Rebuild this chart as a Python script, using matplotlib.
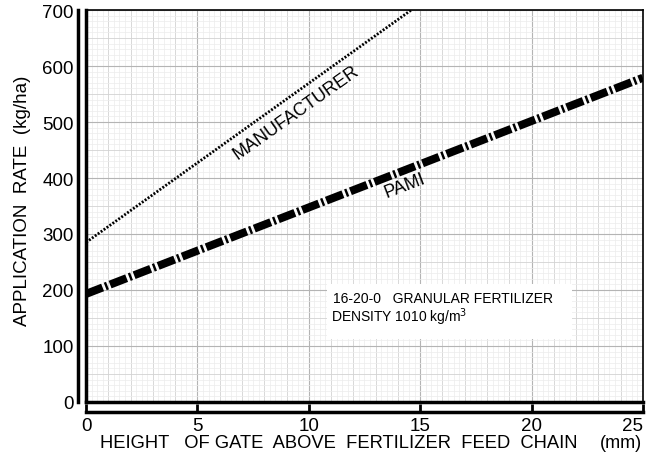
import matplotlib
matplotlib.use("Agg")
import matplotlib.pyplot as plt
import numpy as np

plt.rcParams['font.family'] = ['Liberation Sans', 'DejaVu Sans']

# Data
gate_height = [0, 25]                 # mm
pami_rate = [193, 579]                # kg/ha
manuf_height = [0, 14.6]              # mm
manuf_rate = [285, 700]               # kg/ha
x_ticks = [0, 5, 10, 15, 20, 25]
y_ticks = [0, 100, 200, 300, 400, 500, 600, 700]

fig = plt.figure(figsize=(6.52, 4.60), dpi=100)
ax = fig.add_axes([0.132, 0.124, 0.854, 0.852])
ax.set_xlim(0, 25)
ax.set_ylim(0, 700)

# graph-paper grid
for xv in np.arange(0, 25.01, 0.25):
    if abs(xv - round(xv / 5) * 5) < 1e-6:
        c, w = '#b4b4b4', 0.8
    elif abs(xv - round(xv)) < 1e-6:
        c, w = '#d2d2d2', 0.6
    else:
        c, w = '#ececec', 0.5
    ax.axvline(xv, color=c, lw=w, zorder=0)
for yv in np.arange(0, 700.1, 10):
    if abs(yv % 100) < 1e-6:
        c, w = '#b4b4b4', 0.8
    elif abs(yv % 50) < 1e-6:
        c, w = '#d2d2d2', 0.6
    else:
        c, w = '#ececec', 0.5
    ax.axhline(yv, color=c, lw=w, zorder=0)

# lines
ax.plot(manuf_height, manuf_rate, color='black', lw=2.0,
        linestyle=(0, (0.7, 0.6)), solid_capstyle='butt', zorder=3)
ax.plot(gate_height, pami_rate, color='black', lw=5.8,
        linestyle=(0, (2.2, 0.35, 0.3, 0.35)), dash_capstyle='butt', zorder=3)

ax.text(9.45, 518, 'MANUFACTURER', rotation=35.3, fontsize=13,
        ha='center', va='center', rotation_mode='anchor', zorder=4)
ax.text(14.3, 388, 'PAMI', rotation=21, fontsize=13,
        ha='center', va='center', rotation_mode='anchor', zorder=4)

# annotation box
ax.add_patch(plt.Rectangle((10.8, 113), 11.0, 98, facecolor='white',
                           edgecolor='none', zorder=2))
ax.text(11.1, 185, '16-20-0   GRANULAR FERTILIZER', fontsize=10,
        ha='left', va='center', zorder=4)
ax.text(11.0, 153, 'DENSITY 1010 kg/m$^3$', fontsize=10,
        ha='left', va='center', zorder=4)

# axes frame: double left and bottom lines
for s in ['top', 'right']:
    ax.spines[s].set_linewidth(1.2)
ax.spines['left'].set_position(('outward', 6))
ax.spines['bottom'].set_position(('outward', 7))
ax.spines['left'].set_linewidth(2.5)
ax.spines['bottom'].set_linewidth(2.5)
ax.axvline(0, color='black', lw=2.5, zorder=5, clip_on=False)
ax.axhline(0, color='black', lw=2.5, zorder=5, clip_on=False)

ax.set_xticks(x_ticks)
ax.set_yticks(y_ticks)
ax.tick_params(axis='x', direction='in', length=6, width=2, labelsize=13.5, pad=4)
ax.tick_params(axis='y', direction='out', length=0, width=2, labelsize=13.5, pad=3)
ax.tick_params(which='minor', length=0)
ax.get_xticklabels()[-1].set_horizontalalignment('right')

fig.text(0.034, 0.563, 'APPLICATION  RATE  (kg/ha)', rotation=90, fontsize=13.5,
         ha='center', va='center')
fig.text(0.154, 0.035, 'HEIGHT   OF GATE  ABOVE  FERTILIZER  FEED  CHAIN', fontsize=13.2,
         ha='left', va='center')
fig.text(0.985, 0.035, '(mm)', fontsize=13, ha='right', va='center')

fig.savefig('out.png', dpi=100)
